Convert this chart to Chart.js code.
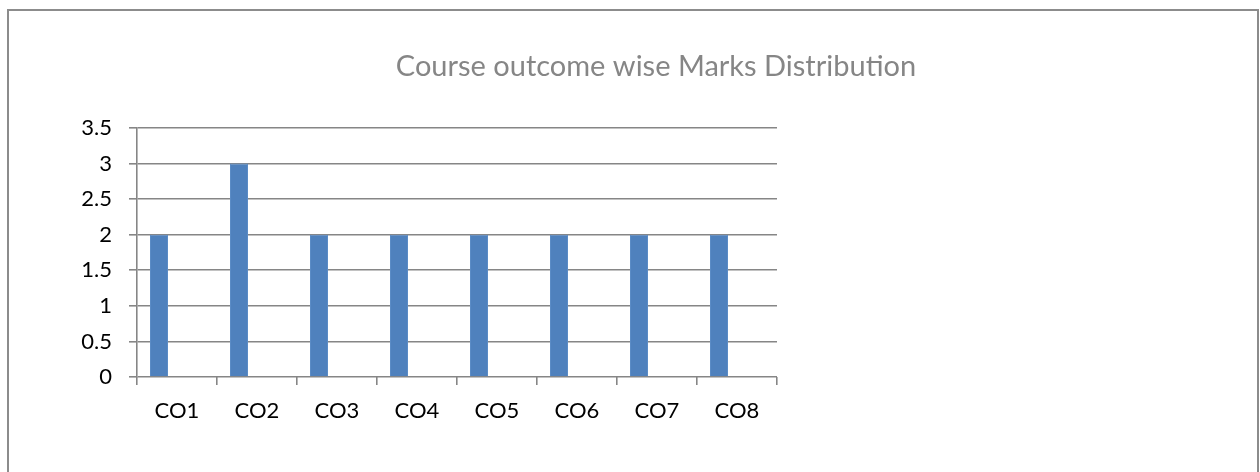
<!DOCTYPE html>
<html>
<head>
<meta charset="utf-8">
<script src="https://cdn.jsdelivr.net/npm/chart.js@4"></script>
<style>
  html, body { margin: 0; padding: 0; background: #fff; }
  #wrap { width: 1260px; height: 472px; }
</style>
</head>
<body>
<div id="wrap"><canvas id="chartCO" width="1260" height="472"></canvas></div>
<script>
const categorias = ['CO1', 'CO2', 'CO3', 'CO4', 'CO5', 'CO6', 'CO7', 'CO8'];
const marcas = [2, 3, 2, 2, 2, 2, 2, 2];
// empty second series: keeps the bars in the left half of each slot
const vazio = [null, null, null, null, null, null, null, null];
const yMin = 0, yMax = 3.5, yPasso = 0.5;
const titulo = 'Course outcome wise Marks Distribution';

const cinza = '#868686';
const fonte = 'Lato, "Open Sans", sans-serif';

/* moldura cinza e título centrado na largura toda */
const moldura = {
  id: 'moldura',
  beforeDraw(chart) {
    const ctx = chart.ctx;
    ctx.save();
    ctx.fillStyle = '#fff';
    ctx.fillRect(0, 0, chart.width, chart.height);
    ctx.strokeStyle = '#8c8c8c';
    ctx.lineWidth = 2;
    ctx.strokeRect(8, 10, 1250, 480);
    ctx.fillStyle = cinza;
    ctx.font = '29px ' + fonte;
    ctx.textAlign = 'center';
    ctx.textBaseline = 'middle';
    ctx.fillText(titulo, 656, 67);
    ctx.restore();
  }
};

new Chart(document.getElementById('chartCO'), {
  type: 'bar',
  data: {
    labels: categorias,
    datasets: [
      { label: 'Marks', data: marcas, backgroundColor: '#4f81bd', borderColor: '#5b8cc6', borderWidth: 1,
        barPercentage: 0.5, categoryPercentage: 0.9 },
      { label: '', data: vazio, backgroundColor: 'rgba(0,0,0,0)',
        barPercentage: 0.5, categoryPercentage: 0.9 }
    ]
  },
  options: {
    responsive: false,
    animation: false,
    layout: { padding: { left: 0, right: 483, top: 128, bottom: 35 } },
    plugins: {
      legend: { display: false },
      tooltip: { enabled: false },
      title: { display: false }
    },
    scales: {
      x: {
        afterFit(s) { s.height = 60; },
        grid: { offset: true, drawOnChartArea: false, drawTicks: true, tickLength: 8, color: cinza, lineWidth: 1.6 },
        border: { display: false },
        ticks: { color: '#000', padding: 13, font: { family: fonte, size: 22 } }
      },
      y: {
        min: yMin, max: yMax,
        afterFit(s) { s.width = 137; },
        ticks: { stepSize: yPasso, color: '#000', padding: 17, font: { family: fonte, size: 22 },
                 callback: v => String(v) },
        grid: { color: cinza, lineWidth: 1.6, tickLength: 8 },
        border: { color: cinza, width: 1.6 }
      }
    }
  },
  plugins: [moldura]
});
</script>
</body>
</html>
